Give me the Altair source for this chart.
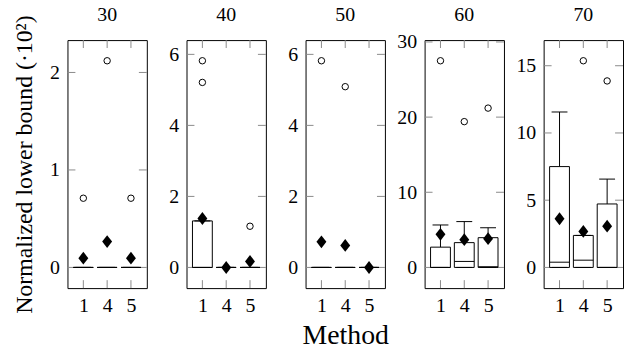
import altair as alt
import pandas as pd

FONT = "'Liberation Serif', 'Times New Roman', 'DejaVu Serif', serif"

panels = ["30", "40", "50", "60", "70"]
methods = ["1", "4", "5"]

q1 = [[0, 0, 0], [0, 0, 0], [0, 0, 0], [0, 0, 0], [0, 0, 0]]
median = [[0, 0, 0], [0, 0, 0], [0, 0, 0], [0, 0.80, 0.09], [0.39, 0.54, 0]]
q3 = [[0, 0, 0], [1.31, 0, 0], [0, 0, 0], [2.70, 3.30, 3.96], [7.50, 2.38, 4.72]]
whisk_lo = [[0, 0, 0], [0, 0, 0], [0, 0, 0], [0, 0, 0], [0, 0, 0]]
whisk_hi = [[0, 0, 0], [1.31, 0, 0], [0, 0, 0], [5.65, 6.10, 5.28], [11.56, 2.38, 6.57]]
means = [[0.095, 0.265, 0.095], [1.38, 0.0, 0.17], [0.72, 0.62, 0.0],
         [4.40, 3.70, 3.83], [3.62, 2.68, 3.07]]
outlier_method = [["1", "4", "5"], ["1", "1", "5"], ["1", "4"], ["1", "4", "5"], ["4", "5"]]
outlier_value = [[0.71, 2.12, 0.71], [5.82, 5.21, 1.16], [5.82, 5.09],
                 [27.5, 19.4, 21.2], [15.37, 13.87]]
y_ticks = [[0, 1, 2], [0, 2, 4, 6], [0, 2, 4, 6], [0, 10, 20, 30], [0, 5, 10, 15]]

Y_TITLE = "Normalized lower bound (·10²)"
X_TITLE = "Method"

W, H = 80, 250
TL = 8
DIAMOND = "M0,-1L0.77,0L0,1L-0.77,0Z"
TICK_COLOR = "#8a8a8a"

charts = []
for i, p in enumerate(panels):
    box = pd.DataFrame({"method": methods, "q1": q1[i], "med": median[i], "q3": q3[i],
                        "lo": whisk_lo[i], "hi": whisk_hi[i], "mean": means[i]})
    out = pd.DataFrame({"method": outlier_method[i], "value": outlier_value[i]})
    tk = pd.DataFrame({"v": y_ticks[i]})
    lab = pd.DataFrame({"label": [p]})
    allv = q1[i] + q3[i] + whisk_hi[i] + whisk_lo[i] + means[i] + outlier_value[i]
    lo, hi = min(allv), max(allv)
    r = hi - lo
    dom = [lo - 0.1 * r, hi + 0.1 * r]

    xs = alt.Scale(type="point", padding=0.667, domain=methods)
    ys = alt.Scale(domain=dom, nice=False, zero=False)

    xkw = dict(labelAngle=0, ticks=False, tickSize=0, domain=False, labelFontSize=20,
               labelPadding=8, labelFont=FONT, labelColor="black", titleFont=FONT,
               titleFontSize=28, titleFontWeight="normal", titlePadding=6,
               titleColor="black", grid=False)
    ykw = dict(values=y_ticks[i], ticks=False, tickSize=0, domain=False, labelFontSize=20,
               labelPadding=8, labelFont=FONT, labelColor="black", titleFont=FONT,
               titleFontSize=24, titleFontWeight="normal", titlePadding=13,
               titleColor="black", grid=False)
    xt = X_TITLE if i == 2 else None
    yt = Y_TITLE if i == 0 else None

    def X():
        return alt.X("method:N", scale=xs, sort=methods, title=xt, axis=alt.Axis(**xkw))

    def Y(f):
        return alt.Y(f, type="quantitative", scale=ys, title=yt, axis=alt.Axis(**ykw))

    bars = alt.Chart(box).mark_bar(fill="white", stroke="black", strokeWidth=1, size=20).encode(
        x=X(), y=Y("q1"), y2="q3")
    whi_up = alt.Chart(box).mark_rule(color="black", strokeWidth=1).encode(
        x=X(), y=Y("q3"), y2="hi")
    whi_dn = alt.Chart(box).mark_rule(color="black", strokeWidth=1).encode(
        x=X(), y=Y("lo"), y2="q1")
    cap_up = alt.Chart(box).mark_tick(color="black", thickness=1, size=16, opacity=1).encode(
        x=X(), y=Y("hi"))
    cap_dn = alt.Chart(box).mark_tick(color="black", thickness=1, size=16, opacity=1).encode(
        x=X(), y=Y("lo"))
    med = alt.Chart(box).mark_tick(color="black", thickness=1, size=20, opacity=1).encode(
        x=X(), y=Y("med"))
    mean_pts = alt.Chart(box).mark_point(shape=DIAMOND, filled=True, color="black",
                                         size=169, opacity=1).encode(x=X(), y=Y("mean"))
    outl = alt.Chart(out).mark_point(shape="circle", filled=False, color="black", size=42,
                                     strokeWidth=1, opacity=1).encode(x=X(), y=Y("value"))
    tl = alt.Chart(tk).mark_rule(color=TICK_COLOR, strokeWidth=1).encode(
        y=Y("v"), x=alt.value(0), x2=alt.value(TL))
    tr = alt.Chart(tk).mark_rule(color=TICK_COLOR, strokeWidth=1).encode(
        y=Y("v"), x=alt.value(W - TL), x2=alt.value(W))
    tt = alt.Chart(box).mark_rule(color=TICK_COLOR, strokeWidth=1).encode(
        x=X(), y=alt.value(0), y2=alt.value(TL))
    tb = alt.Chart(box).mark_rule(color=TICK_COLOR, strokeWidth=1).encode(
        x=X(), y=alt.value(H - TL), y2=alt.value(H))
    head = alt.Chart(lab).mark_text(font=FONT, fontSize=20, baseline="alphabetic",
                                    align="center", color="black").encode(
        text="label:N", x=alt.value(W / 2), y=alt.value(-19))

    panel = alt.layer(tl, tr, tt, tb, whi_up, whi_dn, bars, med, cap_up, cap_dn,
                      outl, mean_pts, head).properties(width=W, height=H)
    charts.append(panel)

chart = alt.hconcat(*charts, spacing=40, bounds="flush").properties(
    padding={"left": 12, "top": 3, "right": 0, "bottom": 0}
).configure_view(stroke="black", strokeWidth=1)

chart.save("out.html", embed_options={"renderer": "svg", "actions": False})
